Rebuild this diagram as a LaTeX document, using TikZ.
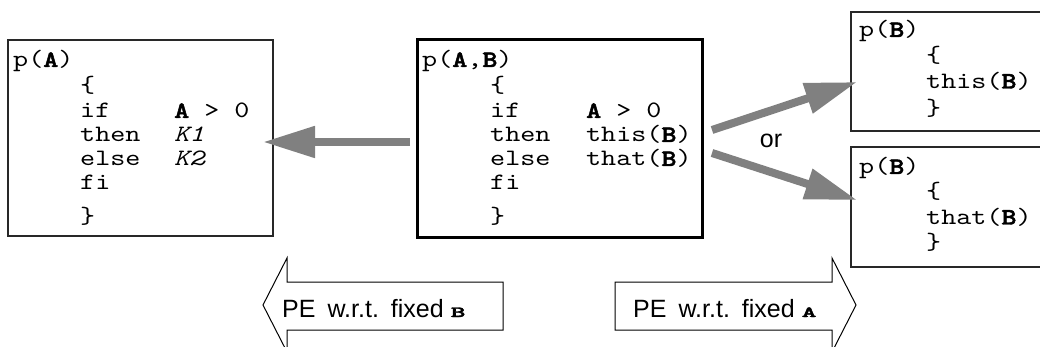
\documentclass[tikz,border=0pt]{standalone}
\usepackage{fontspec}
\usepackage{graphicx}
\setmainfont{Liberation Sans}
\setsansfont{Liberation Sans}
% typewriter face widened to a Courier-like set width
\setmonofont{lmmono10-regular.otf}[
  FakeStretch=1.22,
  ItalicFont=lmmono10-italic.otf,
  BoldFont=lmmonolt10-bold.otf,
  BoldFeatures={FakeBold=2}]
\newfontfamily\ttbf{lmmonolt10-bold.otf}[FakeBold=2]
\usetikzlibrary{arrows.meta}

\definecolor{flowgray}{RGB}{128,128,128}
\definecolor{edgegray}{RGB}{40,40,40}

% program text: typewriter face, fixed 24pt line pitch
\newcommand{\cdfont}{\fontsize{23.5}{24}\selectfont\ttfamily}
\newcommand{\lblfont}{\fontsize{25}{25}\selectfont\sffamily}
\newcommand{\bv}[1]{\textbf{#1}}
\newcommand{\flatvar}[1]{\scalebox{1}[0.55]{\fontsize{28}{28}\selectfont\ttbf #1}}
\newenvironment{codelines}[1]
  {\begin{minipage}[t]{#1}\lineskiplimit=-100pt\relax}
  {\end{minipage}}

\tikzset{
  codebox/.style={draw=edgegray, line width=1.2pt, inner sep=0pt, fill=none},
  mainbox/.style={draw=black, line width=3pt, inner sep=0pt},
  code/.style={anchor=base west, inner sep=0pt, font=\cdfont},
  flow/.style={draw=flowgray, line width=8pt,
    -{Triangle[length=52pt,width=30pt]}},
  pearrow/.style={draw=black, line width=1pt, line join=miter, fill=white},
  pelabel/.style={anchor=base west, inner sep=0pt, font=\lblfont},
}

\begin{document}
\begin{tikzpicture}[x=1pt, y=-1pt]
\useasboundingbox (0,0) rectangle (1040,347);
\fill[white] (0,0) rectangle (1040,347);
\begin{scope}
\clip (0,0) rectangle (1040,347);

% ---- the four program boxes ----
\node[codebox, minimum width=265pt, minimum height=196pt] (lbox) at (140.5,138) {};
\node[mainbox, minimum width=285pt, minimum height=197pt] (mbox) at (559.5,138.5) {};
\node[codebox, minimum width=199pt, minimum height=119pt] (tbox) at (950.5,71.5) {};
\node[codebox, minimum width=199pt, minimum height=120pt] (bbox) at (950.5,207) {};

% ---- p(A): result of fixing B ----
\node[code] (ltext) at (13,67) {\begin{codelines}{255pt}
p(\bv{A})\\[1.5pt]
\hspace*{67pt}\{\\[1.5pt]
\hspace*{67pt}\makebox[94pt][l]{if}\bv{A} > 0\\
\hspace*{67pt}\makebox[94pt][l]{then}\textit{K1}\\
\hspace*{67pt}\makebox[94pt][l]{else}\textit{K2}\\
\hspace*{67pt}fi\\[10pt]
\hspace*{67pt}\}
\end{codelines}};

% ---- the original program p(A,B) ----
\node[code] (mtext) at (422,67) {\begin{codelines}{275pt}
p(\bv{A},\bv{B})\\[1.5pt]
\hspace*{68pt}\{\\[1.5pt]
\hspace*{68pt}\makebox[96pt][l]{if}\bv{A} > 0\\
\hspace*{68pt}\makebox[96pt][l]{then}this(\bv{B})\\
\hspace*{68pt}\makebox[96pt][l]{else}that(\bv{B})\\
\hspace*{68pt}fi\\[10pt]
\hspace*{68pt}\}
\end{codelines}};

% ---- p(B): results of fixing A ----
\node[code] (ttext) at (859,37) {\begin{codelines}{190pt}
p(\bv{B})\\[1.5pt]
\hspace*{67pt}\{\\[2pt]
\hspace*{67pt}this(\bv{B})\\[3pt]
\hspace*{67pt}\}
\end{codelines}};

\node[code] (btext) at (859,174) {\begin{codelines}{190pt}
p(\bv{B})\\[1pt]
\hspace*{67pt}\{\\[1.5pt]
\hspace*{67pt}that(\bv{B})\\[1.5pt]
\hspace*{67pt}\}
\end{codelines}};

% ---- specialisation arrows ----
\coordinate (ls) at (410,142);
\coordinate (le) at (263,142);
\coordinate (ts) at (712,130);
\coordinate (te) at (857,82);
\coordinate (bs) at (712,153);
\coordinate (be) at (857,200);
\draw[flow] (ls) -- (le);
\draw[flow] (ts) -- (te);
\draw[flow] (bs) -- (be);
\node[font=\lblfont, inner sep=0pt] (or) at (771,141) {or};

% ---- block arrows naming the fixed argument ----
\draw[pearrow] (263,305) -- (287,258) -- (287,282) -- (503,282)
  -- (503,330) -- (287,330) -- (287,352) -- cycle;
\draw[pearrow] (615,282) -- (832,282) -- (832,258) -- (856,305)
  -- (832,352) -- (832,330) -- (615,330) -- cycle;
\node[pelabel] (peB) at (282,317) {PE\hspace{12pt}w.r.t.\hspace{12pt}fixed \flatvar{B}};
\node[pelabel] (peA) at (633,317) {PE\hspace{12pt}w.r.t.\hspace{12pt}fixed \flatvar{A}};
\end{scope}
\end{tikzpicture}
\end{document}
